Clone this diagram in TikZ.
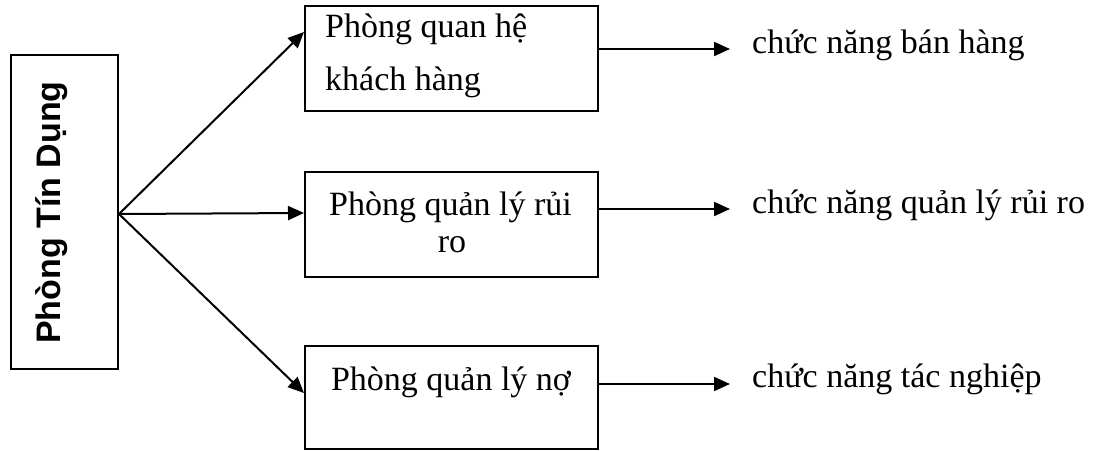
\documentclass[tikz,border=0pt]{standalone}
\usepackage{fontspec}
\setmainfont{Liberation Serif}
\newfontfamily\headfont{Liberation Sans}
\usetikzlibrary{arrows.meta,calc}
\begin{document}
\begin{tikzpicture}[x=1pt,y=-1pt,
  box/.style={draw,line width=2pt,inner sep=0pt,anchor=north west,minimum width=293pt},
  arr/.style={line width=2pt,-{Triangle[length=16pt,width=14pt]}},
  txt/.style={inner sep=0pt,font=\fontsize{34}{40}\selectfont}]
\useasboundingbox (0,0) rectangle (1100,450);
% left box
\node[box,minimum width=107pt,minimum height=314pt] (L) at (10,54) {};
\node[rotate=90,anchor=base,inner sep=0pt,font=\headfont\bfseries\fontsize{34}{40}\selectfont] (Lt) at (60,212.5) {Phòng Tín Dụng};
% boxes
\node[box,minimum height=105pt] (b1) at (304,5) {};
\node[box,minimum height=105pt] (b2) at (304,171) {};
\node[box,minimum height=103pt] (b3) at (304,345) {};
% box texts
\node[txt,anchor=base west] (t1a) at (325,37) {Phòng quan hệ};
\node[txt,anchor=base west] (t1b) at (325,90) {khách hàng};
\node[txt,anchor=base] (t2a) at (450.5,215) {Phòng quản lý rủi};
\node[txt,anchor=base] (t2b) at (452,252) {ro};
\node[txt,anchor=base] (t3) at (451,390) {Phòng quản lý nợ};
% right texts
\node[txt,anchor=base west] (r1) at (752,53) {chức năng bán hàng};
\node[txt,anchor=base west] (r2) at (752,213) {chức năng quản lý rủi ro};
\node[txt,anchor=base west] (r3) at (752,387) {chức năng tác nghiệp};
% connectors
\coordinate (o) at ($(L.north east)+(0,160)$);
\coordinate (a1) at ($(b1.north west)+(0,27)$);
\coordinate (a2) at ($(b2.north west)+(0,42)$);
\coordinate (a3) at ($(b3.north west)+(0,48)$);
\draw[arr] (o) -- (a1);
\draw[arr] (o) -- (a2);
\draw[arr] (o) -- (a3);
\coordinate (s1) at ($(b1.north east)+(0,44)$);
\coordinate (s2) at ($(b2.north east)+(0,38)$);
\coordinate (s3) at ($(b3.north east)+(0,39)$);
\coordinate (e1) at (730,49);
\coordinate (e2) at (730,209);
\coordinate (e3) at (730,384);
\draw[arr] (s1) -- (e1);
\draw[arr] (s2) -- (e2);
\draw[arr] (s3) -- (e3);
\end{tikzpicture}
\end{document}
